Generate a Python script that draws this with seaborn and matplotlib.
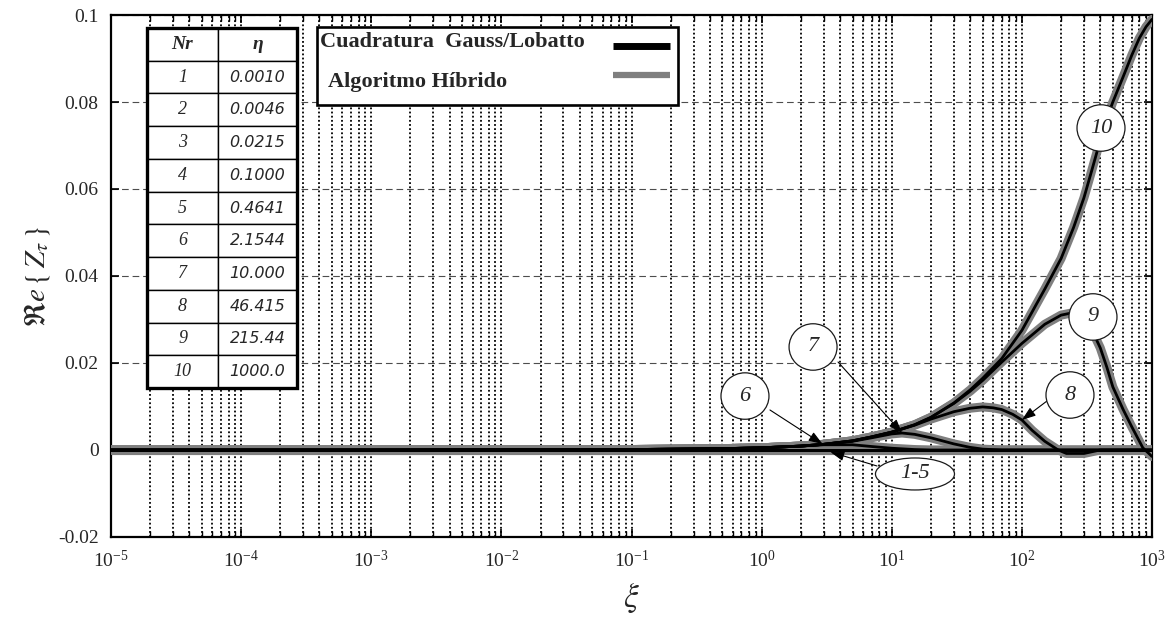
import numpy as np
import pandas as pd
import matplotlib
matplotlib.use("Agg")
import matplotlib.pyplot as plt
import seaborn as sns
from matplotlib.lines import Line2D
from matplotlib.patches import Ellipse, Rectangle
from matplotlib.ticker import LogLocator, FixedLocator, FixedFormatter, NullFormatter

# ---- table of curves: number and eta parameter ----
NR = ["1", "2", "3", "4", "5", "6", "7", "8", "9", "10"]
ETA = ["0.0010", "0.0046", "0.0215", "0.1000", "0.4641",
       "2.1544", "10.000", "46.415", "215.44", "1000.0"]

# ---- Re{Z_tau} versus xi for every curve ----
XI_1_5 = [1e-5, 1e-4, 1e-3, 1e-2, 1e-1, 1, 10, 100, 1000]
RE_1 = [0, 0, 0, 0, 0, 0, 0, 0, 0]
RE_2 = [0, 0, 0, 0, 0, 0, 0, 0, 0]
RE_3 = [0, 0, 0, 0, 0, 0, 0, 0, 0]
RE_4 = [0, 0, 0, 0, 0, 0, 0, 0, 0]
RE_5 = [0, 0, 0, 0, 0, 0, 0, 0, 0]

XI_6 = [1e-5, 1e-3, 0.1, 0.5, 1, 2, 3, 5, 7, 10, 15, 20, 50, 1000]
RE_6 = [0, 0, 0.0001, 0.0003, 0.0005, 0.0009, 0.0012, 0.0012, 0.0008,
        0.0004, 0.0001, 0, 0, 0]

XI_7 = [1e-5, 1e-3, 0.1, 0.5, 1, 2, 3, 5, 7, 10, 12, 15, 20, 30, 40, 50,
        70, 1000]
RE_7 = [0, 0, 0.0001, 0.0003, 0.0005, 0.0009, 0.0013, 0.002, 0.0028,
        0.0037, 0.0039, 0.0036, 0.0028, 0.0014, 0.0006, 0.0002, 0, 0]

XI_8 = [1e-5, 1e-3, 0.1, 0.5, 1, 2, 3, 5, 7, 10, 15, 20, 30, 40, 50, 60,
        70, 85, 100, 120, 150, 190, 220, 300, 400, 1000]
RE_8 = [0, 0, 0.0001, 0.0003, 0.0005, 0.0009, 0.0013, 0.0021, 0.003,
        0.0041, 0.0057, 0.0071, 0.0088, 0.0096, 0.0099, 0.0097, 0.0093,
        0.0082, 0.0069, 0.0045, 0.002, 0.0, -0.0008, -0.0008, 0, 0]

XI_9 = [1e-5, 1e-3, 0.1, 0.5, 1, 2, 3, 5, 7, 10, 15, 20, 30, 40, 50, 70,
        100, 150, 200, 250, 300, 350, 400, 450, 500, 600, 700, 850, 1000]
RE_9 = [0, 0, 0.0001, 0.0003, 0.0005, 0.0009, 0.0013, 0.0021, 0.003,
        0.0041, 0.0058, 0.0075, 0.0107, 0.0135, 0.016, 0.0202, 0.0245,
        0.0289, 0.031, 0.0316, 0.030, 0.0272, 0.0235, 0.019, 0.0145,
        0.0093, 0.0053, 0.0005, -0.0015]

XI_10 = [1e-5, 1e-3, 0.1, 0.5, 1, 2, 3, 5, 7, 10, 15, 20, 30, 40, 50, 70,
         100, 150, 200, 250, 300, 350, 400, 450, 500, 600, 700, 800, 900,
         1000]
RE_10 = [0, 0, 0.0001, 0.0003, 0.0005, 0.0009, 0.0013, 0.0021, 0.003,
         0.0041, 0.0058, 0.0075, 0.0108, 0.0138, 0.0165, 0.021, 0.0275,
         0.037, 0.044, 0.0512, 0.058, 0.065, 0.0712, 0.0762, 0.080, 0.0858,
         0.0908, 0.0947, 0.0973, 0.0990]

XI_LIST = [XI_1_5] * 5 + [XI_6, XI_7, XI_8, XI_9, XI_10]
RE_LIST = [RE_1, RE_2, RE_3, RE_4, RE_5, RE_6, RE_7, RE_8, RE_9, RE_10]

Y_TICKS = [-0.02, 0, 0.02, 0.04, 0.06, 0.08, 0.1]
Y_TICK_LABELS = ["-0.02", "0", "0.02", "0.04", "0.06", "0.08", "0.1"]

LEGEND_LABELS = ["Cuadratura  Gauss/Lobatto", "Algoritmo Híbrido"]

# ---- long table for seaborn ----
df = pd.concat(
    [pd.DataFrame({"xi": xs, "re": ys, "nr": nr})
     for nr, xs, ys in zip(NR, XI_LIST, RE_LIST)],
    ignore_index=True,
)

sns.set_theme(style="ticks")
plt.rcParams["font.family"] = ["Liberation Serif", "DejaVu Serif"]
plt.rcParams["mathtext.fontset"] = "stix"
plt.rcParams["axes.linewidth"] = 1.6

fig = plt.figure(figsize=(11.76, 6.2), dpi=100)
ax = fig.add_axes([0.0944, 0.1339, 0.8852, 0.8419])

GREY = "#7f7f7f"
# hybrid algorithm (wide grey), then Gauss/Lobatto quadrature (black) on top
sns.lineplot(data=df, x="xi", y="re", units="nr", estimator=None, sort=False,
             color=GREY, linewidth=6.5, legend=False, ax=ax, zorder=3)
sns.lineplot(data=df, x="xi", y="re", units="nr", estimator=None, sort=False,
             color="black", linewidth=2.0, legend=False, ax=ax, zorder=4)

ax.set_xscale("log")
ax.set_xlim(1e-5, 1e3)
ax.set_ylim(-0.02, 0.1)

ax.xaxis.set_major_locator(LogLocator(base=10, numticks=20))
ax.xaxis.set_minor_locator(LogLocator(base=10, subs=np.arange(2, 10), numticks=200))
ax.xaxis.set_minor_formatter(NullFormatter())
ax.yaxis.set_major_locator(FixedLocator(Y_TICKS))
ax.yaxis.set_major_formatter(FixedFormatter(Y_TICK_LABELS))
ax.yaxis.set_minor_locator(FixedLocator([]))

ax.tick_params(which="both", direction="in", top=True, right=True,
               color="black")
ax.tick_params(which="major", length=6, width=1.2, labelsize=14, pad=9)
ax.tick_params(which="minor", length=4, width=1.0)
for sp in ax.spines.values():
    sp.set_color("black")
    sp.set_linewidth(1.6)

# grids: dotted verticals at every decade subdivision, dashed horizontals
ax.set_axisbelow(True)
ax.grid(False)
ax.grid(True, which="both", axis="x", color="black", linewidth=1.3,
        linestyle=(0, (1, 1.3)))
ax.grid(True, which="major", axis="y", color="0.3", linewidth=0.8,
        linestyle=(0, (6, 3.5)))

ax.set_xlabel(r"$\xi$", fontsize=24)
ax.xaxis.set_label_coords(0.5, -0.085)
ax.set_ylabel(r"$\Re e\,\{\,Z_{\tau}\,\}$", fontsize=21)
ax.yaxis.set_label_coords(-0.057, 0.5)

# ---- parameter table ----
TB = (0.0346, 0.2854, 0.1441, 0.6897)
tbl = ax.table(cellText=[[n, e] for n, e in zip(NR, ETA)],
               colLabels=["Nr", "η"], cellLoc="center",
               colWidths=[0.473, 0.527], bbox=list(TB))
tbl.auto_set_font_size(False)
tbl.set_zorder(6)
for (r, c), cell in tbl.get_celld().items():
    cell.set_edgecolor("black")
    cell.set_linewidth(1.0)
    cell.set_facecolor("white")
    txt = cell.get_text()
    if r == 0:
        txt.set_fontfamily("Liberation Serif")
        txt.set_fontweight("bold")
        txt.set_fontstyle("italic")
        txt.set_fontsize(14)
    elif c == 0:
        txt.set_fontfamily("Liberation Serif")
        txt.set_fontstyle("italic")
        txt.set_fontsize(13)
    else:
        txt.set_fontfamily("DejaVu Sans")
        txt.set_fontstyle("italic")
        txt.set_fontsize(11.5)
ax.add_patch(Rectangle(TB[:2], TB[2], TB[3], transform=ax.transAxes,
                       fill=False, edgecolor="black", linewidth=2.4, zorder=7))

# ---- legend box: labels on the left, line samples on the right ----
LG = (0.1979, 0.8276, 0.3468, 0.1494)
ax.add_patch(Rectangle(LG[:2], LG[2], LG[3], transform=ax.transAxes,
                       facecolor="white", edgecolor="black", linewidth=1.9,
                       zorder=10))
leg_font = dict(family="Liberation Serif", weight="bold", size=16)
ax.text(0.2003, 0.9483, LEGEND_LABELS[0], transform=ax.transAxes,
        ha="left", va="center", zorder=11, **leg_font)
ax.text(0.2085, 0.8716, LEGEND_LABELS[1], transform=ax.transAxes,
        ha="left", va="center", zorder=11, **leg_font)
ax.add_line(Line2D([0.4822, 0.537], [0.9406, 0.9406], transform=ax.transAxes,
                   color="black", linewidth=5.0, solid_capstyle="butt",
                   zorder=11))
ax.add_line(Line2D([0.4822, 0.537], [0.8851, 0.8851], transform=ax.transAxes,
                   color=GREY, linewidth=4.5, solid_capstyle="butt",
                   zorder=11))


# ---- curve bubbles and pointers ----
def bubble(cx, cy, w, h, text, fs=16):
    ax.add_patch(Ellipse((cx, cy), w, h, transform=ax.transAxes,
                         facecolor="white", edgecolor="0.1", linewidth=0.9,
                         zorder=8))
    ax.text(cx, cy, text, transform=ax.transAxes, ha="center", va="center",
            fontsize=fs, fontstyle="italic", family="Liberation Serif",
            zorder=9)


def pointer(sx, sy, tip, shrink=0):
    ax.annotate("", xy=tip, xycoords="data", xytext=(sx, sy),
                textcoords="axes fraction",
                arrowprops=dict(arrowstyle="-|>,head_length=0.7,head_width=0.25",
                                color="black", linewidth=0.8,
                                shrinkA=0, shrinkB=shrink),
                zorder=8)


CW, CH = 0.0461, 0.0890
pointer(0.633, 0.2433, (XI_6[6], RE_6[6]), shrink=1)
pointer(0.6984, 0.3352, (XI_7[10], RE_7[10]))
pointer(0.8991, 0.2605, (XI_8[18], RE_8[18]))
pointer(0.7358, 0.136, (3.0, 0.0), shrink=5)

bubble(0.951, 0.7835, CW, CH, "10")
bubble(0.9433, 0.4215, CW, CH, "9")
bubble(0.9212, 0.272, CW, CH, "8")
bubble(0.6744, 0.364, CW, CH, "7")
bubble(0.609, 0.270, CW, CH, "6")
bubble(0.7723, 0.1207, 0.0759, 0.0613, "1-5")

fig.savefig("out.png", dpi=100)
